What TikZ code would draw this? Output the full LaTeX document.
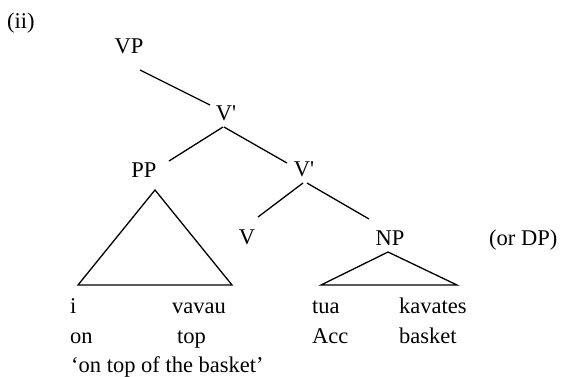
\documentclass[tikz,border=0pt]{standalone}
\usepackage{fontspec}
\setmainfont{Liberation Serif}[Ligatures=TeXOff]
\begin{document}
\begin{tikzpicture}[x=1pt,y=-1pt,
  lbl/.style={inner sep=0pt,anchor=base,font=\fontsize{22.5}{27}\selectfont},
  wrd/.style={inner sep=0pt,anchor=base west,font=\fontsize{22.5}{27}\selectfont},
  edge/.style={line width=1.3pt}]
\useasboundingbox (0,0) rectangle (563,376);
\node[wrd] (ii) at (7,28) {(ii)};
\node[lbl] (VP) at (129,53) {VP};
\node[lbl] (V1) at (226,120) {V'};
\node[lbl] (PP) at (144,177) {PP};
\node[lbl] (V2) at (304,176) {V'};
\node[lbl] (V) at (247,244) {V};
\node[lbl] (NP) at (390,245) {NP};
\node[wrd] (DP) at (489,245) {(or DP)};
\node[wrd] (w1) at (70,313) {i};
\node[wrd] (w2) at (172,313) {vavau};
\node[wrd] (w3) at (312,313) {tua};
\node[wrd] (w4) at (399,313) {kavates};
\node[wrd] (g1) at (70,343) {on};
\node[wrd] (g2) at (177,343) {top};
\node[wrd] (g3) at (312,343) {Acc};
\node[wrd] (g4) at (399,343) {basket};
\node[wrd] (tr) at (71,372) {‘on top of the basket’};
\coordinate (PPl) at (78,285);
\coordinate (PPr) at (232,285);
\coordinate (NPl) at (321,285);
\coordinate (NPr) at (457,285);
\draw[edge] ([xshift=11pt,yshift=-17pt]VP.base) -- ([xshift=-16pt,yshift=15pt]V1.base);
\draw[edge] ([xshift=-3pt,yshift=-7pt]V1.base) -- ([xshift=25pt,yshift=16pt]PP.base);
\draw[edge] ([xshift=-2pt,yshift=-7pt]V1.base) -- ([xshift=-17pt,yshift=13pt]V2.base);
\draw[edge] ([xshift=-1pt,yshift=-7pt]V2.base) -- ([xshift=11pt,yshift=27pt]V.base);
\draw[edge] ([xshift=3pt,yshift=-7pt]V2.base) -- ([xshift=-21pt,yshift=26pt]NP.base);
\draw[edge,line join=miter] ([xshift=11pt,yshift=-13pt]PP.base) -- (PPl) -- (PPr) -- cycle;
\draw[edge,line join=miter] ([xshift=-2pt,yshift=-7pt]NP.base) -- (NPl) -- (NPr) -- cycle;
\end{tikzpicture}
\end{document}
